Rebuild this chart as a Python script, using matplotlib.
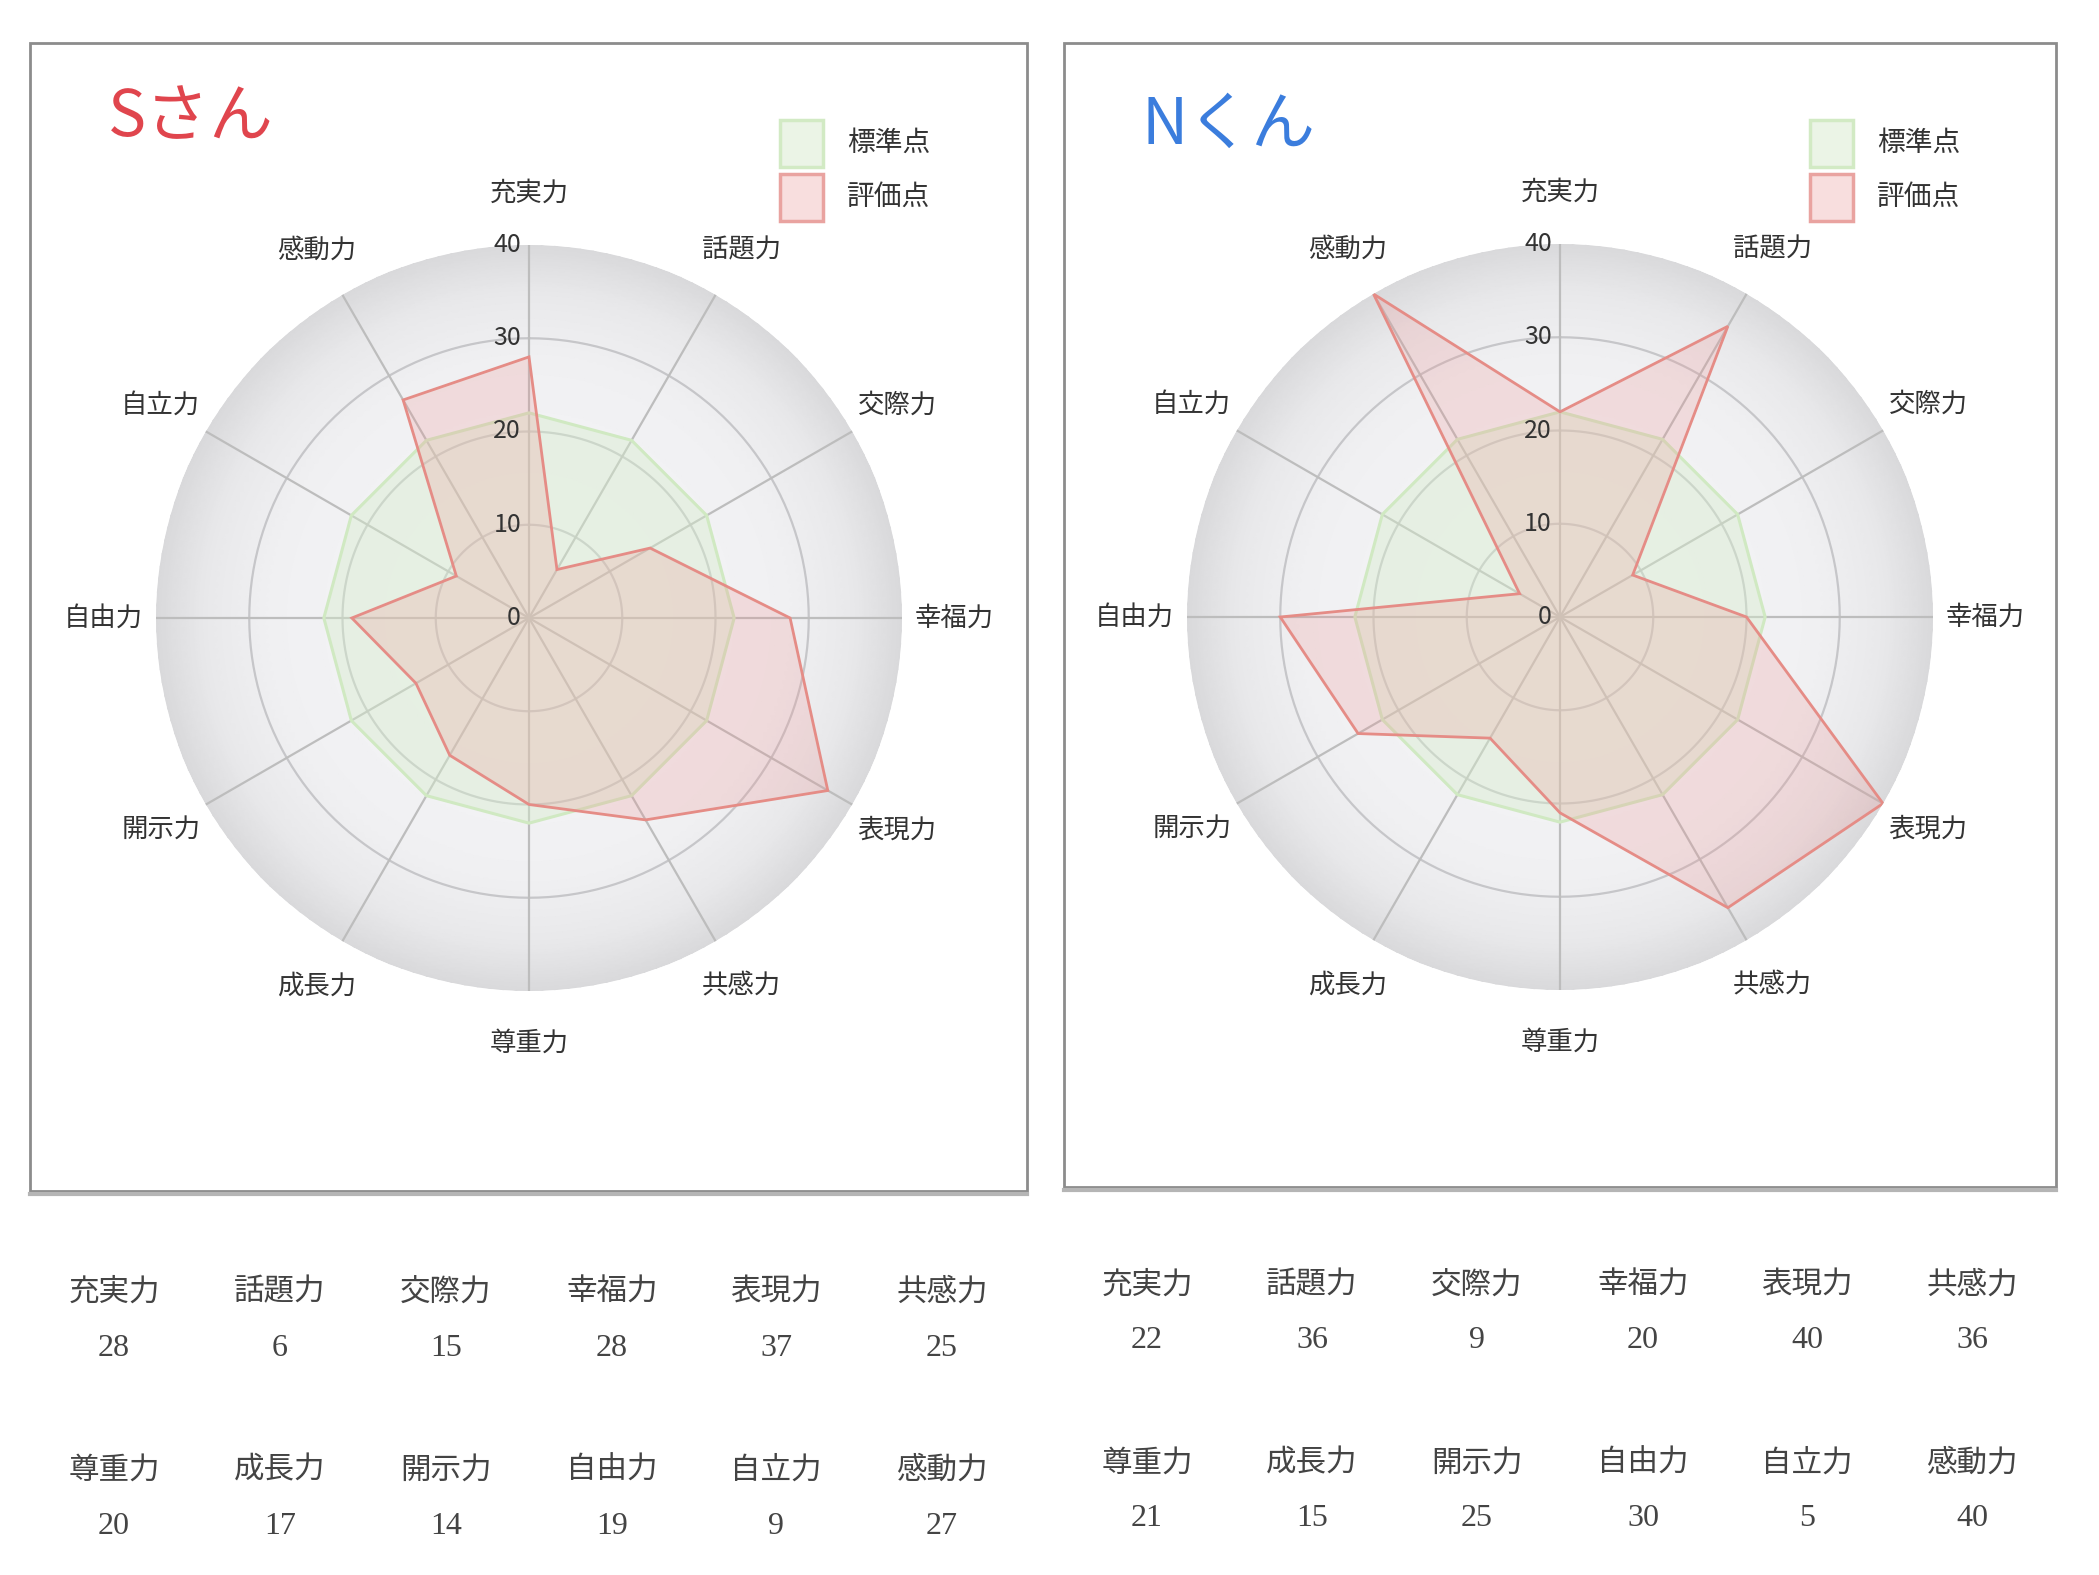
import numpy as np
import matplotlib
matplotlib.use("Agg")
import matplotlib.pyplot as plt
from matplotlib.patches import Rectangle
from matplotlib.colors import LinearSegmentedColormap
import matplotlib.transforms as mtransforms

plt.rcParams['font.family'] = ['Noto Sans CJK JP', 'DejaVu Sans']

# data
categories = ['充実力', '話題力', '交際力', '幸福力', '表現力', '共感力',
              '尊重力', '成長力', '開示力', '自由力', '自立力', '感動力']
standard = [22, 22, 22, 22, 22, 22, 22, 22, 22, 22, 22, 22]
s_scores = [28, 6, 15, 28, 37, 25, 20, 17, 14, 19, 9, 27]
n_scores = [22, 36, 9, 20, 40, 36, 21, 15, 25, 30, 5, 40]
r_ticks = [0, 10, 20, 30, 40]
legend_labels = ['標準点', '評価点']

W, H = 2099, 1575
fig = plt.figure(figsize=(W / 100, H / 100), dpi=100)
fig.patch.set_facecolor('white')


def fx(x):
    return x / W


def fy(y):
    return 1 - y / H


disc_cmap = LinearSegmentedColormap.from_list(
    'disc', ['#f3f3f5', '#f0f0f2', '#e8e8ea', '#d9d9db'])


def panel(box, center, title, title_color, title_y, scores, legend_x,
          table_x, table_y):
    x0, y0, x1, y1 = box
    # frame with a bit of shadow at the bottom
    fig.add_artist(Rectangle((fx(x0), fy(y1)), fx(x1) - fx(x0), fy(y0) - fy(y1),
                             transform=fig.transFigure, fill=False,
                             edgecolor='#8c8c8c', lw=2, zorder=0))
    fig.add_artist(plt.Line2D([fx(x0), fx(x1)], [fy(y1 + 3), fy(y1 + 3)],
                              transform=fig.transFigure, color='#b5b5b5', lw=3))

    cx, cy = center
    R = 373
    ax = fig.add_axes([fx(cx - R), fy(cy + R), 2 * R / W, 2 * R / H],
                      projection='polar')
    ax.set_theta_zero_location('N')
    ax.set_theta_direction(-1)
    ax.set_ylim(0, 40)
    ax.grid(False)
    ax.spines['polar'].set_visible(False)
    ax.set_xticks([])
    ax.set_yticks([])
    ax.patch.set_alpha(0)

    # shaded disc
    th = np.linspace(0, 2 * np.pi, 181)
    rr = np.linspace(0, 40, 81)
    T, RR = np.meshgrid(th, rr)
    ax.pcolormesh(T, RR, (RR / 40) ** 3, cmap=disc_cmap, vmin=0, vmax=1,
                  shading='gouraud', zorder=0)

    angles = np.linspace(0, 2 * np.pi, len(categories), endpoint=False)
    circ = np.linspace(0, 2 * np.pi, 361)
    for r in r_ticks[1:-1]:
        ax.plot(circ, [r] * len(circ), color='#c6c6c9', lw=1.6, zorder=1)
    for a in angles:
        ax.plot([a, a], [0, 40], color='#bdbdbd', lw=1.6, zorder=1)

    ang_c = np.append(angles, angles[0])
    std_c = np.append(standard, standard[0])
    sc_c = np.append(scores, scores[0])
    ax.fill(ang_c, std_c, facecolor=(0.84, 0.93, 0.80, 0.42),
            edgecolor='#d0e9c2', lw=2.2, zorder=2)
    ax.fill(ang_c, sc_c, facecolor=(0.93, 0.55, 0.55, 0.22),
            edgecolor='#e58c86', lw=2.0, zorder=3)

    for a, lab in zip(angles, categories):
        ax.text(a, 45.6, lab, ha='center', va='center', fontsize=19,
                color='#333333', clip_on=False)

    off = mtransforms.offset_copy(ax.transData, fig=fig, x=-8, y=0, units='dots')
    for r in r_ticks:
        ax.text(0, r, str(r), transform=off, ha='right', va='center',
                fontsize=18, color='#333333', zorder=5)

    fig.text(fx(x0 + 78), fy(title_y), title, fontsize=46, color=title_color,
             ha='left', va='center')

    # legend
    lx = legend_x
    for i, (lab, fc, ec) in enumerate(zip(legend_labels,
                                          ['#ebf4e6', '#f8dede'],
                                          ['#d2eac4', '#e9a3a0'])):
        yb = 120 + i * 54
        fig.add_artist(Rectangle((fx(lx), fy(yb + 47)), 43 / W, 47 / H,
                                 transform=fig.transFigure, facecolor=fc,
                                 edgecolor=ec, lw=2.5))
        fig.text(fx(lx + 67), fy(yb + 23), lab, fontsize=20, color='#333333',
                 ha='left', va='center')

    # value table
    for row in range(2):
        for col in range(6):
            k = row * 6 + col
            xx = table_x[col]
            yy = table_y[row]
            fig.text(fx(xx), fy(yy), categories[k], fontsize=22, color='#444444',
                     ha='center', va='center')
            fig.text(fx(xx), fy(yy + 56), str(scores[k]), fontsize=23,
                     color='#444444', ha='center', va='center',
                     family='Liberation Serif')


left_cols = [114, 280, 446, 612, 776, 942]
right_cols = [1147, 1312, 1477, 1643, 1807, 1972]

panel((30, 43, 1027, 1191), (529, 618), 'Sさん', '#e0454d', 118, s_scores,
      780, left_cols, [1292, 1470])
panel((1064, 43, 2056, 1187), (1560, 617), 'Nくん', '#3b7ddd', 126, n_scores,
      1810, right_cols, [1285, 1463])

fig.savefig('out.png', dpi=100, facecolor='white')
